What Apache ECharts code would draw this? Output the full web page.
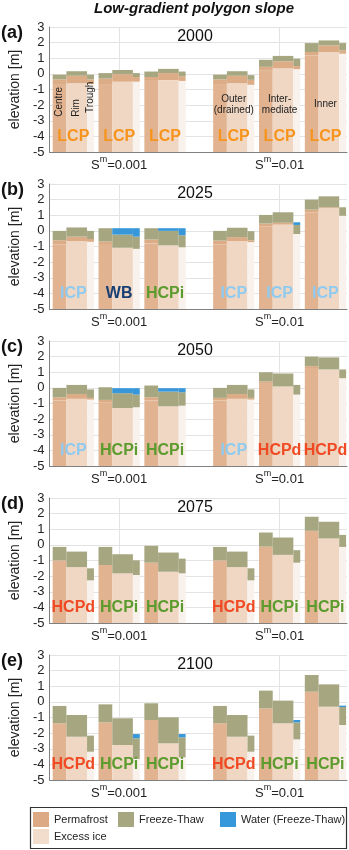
<!DOCTYPE html>
<html><head><meta charset="utf-8">
<script src="https://cdn.jsdelivr.net/npm/echarts@6/dist/echarts.min.js"></script>
<style>html,body{margin:0;padding:0;background:#fff}#c{width:349px;height:850px}</style>
</head><body><div id="c"></div><script>
// ---------------- DATA ----------------
const chartTitle = 'Low-gradient polygon slope';
const years = ['2000', '2025', '2050', '2075', '2100'];
const panelLetters = ['(a)', '(b)', '(c)', '(d)', '(e)'];
const slopeLabels = ['0.001', '0.01'];
const yTicks = [-5, -4, -3, -2, -1, 0, 1, 2, 3];
const sectionNames = ['Centre', 'Rim', 'Trough'];
const positionNames = ['Outer\n(drained)', 'Inter-\nmediate', 'Inner'];
const legendNames = ['Permafrost', 'Freeze-Thaw', 'Water (Freeze-Thaw)', 'Excess ice'];
const polygonTypes = [
  ['LCP', 'LCP', 'LCP', 'LCP', 'LCP', 'LCP'],
  ['ICP', 'WB', 'HCPi', 'ICP', 'ICP', 'ICP'],
  ['ICP', 'HCPi', 'HCPi', 'ICP', 'HCPd', 'HCPd'],
  ['HCPd', 'HCPi', 'HCPi', 'HCPd', 'HCPi', 'HCPi'],
  ['HCPd', 'HCPi', 'HCPi', 'HCPd', 'HCPi', 'HCPi']
];
// 18 bars per panel: (centre, rim, trough) x 6 polygons
// ground surface = top of freeze-thaw layer [m]
const surface = [
  [-0.05, 0.17, -0.05,  0.05, 0.25, 0.05,  0.15, 0.32, 0.15,  -0.05, 0.17, -0.08,  0.90, 1.15, 0.97,  1.97, 2.14, 1.97],
  [0.00, 0.22, 0.00,  0.17, -0.24, -0.37,  0.17, 0.00, -0.28,  0.00, 0.20, -0.02,  1.02, 1.19, 0.38,  2.00, 2.21, 1.51],
  [0.00, 0.19, -0.10,  0.04, -0.34, -0.43,  0.15, -0.24, -0.28,  0.00, 0.19, -0.10,  1.00, 0.92, 0.19,  2.00, 1.95, 1.18],
  [-0.13, -0.43, -1.50,  -0.13, -0.60, -0.99,  -0.06, -0.49, -0.88,  -0.13, -0.43, -1.50,  0.79, 0.47, -0.34,  1.80, 1.48, 0.64],
  [-0.26, -0.84, -2.16,  -0.16, -1.05, -2.33,  -0.09, -0.99, -2.27,  -0.26, -0.84, -2.16,  0.72, 0.08, -1.31,  1.72, 1.12, -0.33]
];
// permafrost table = bottom of freeze-thaw layer [m]
const permafrostTable = [
  [-0.35, -0.12, -0.35,  -0.30, -0.02, -0.20,  -0.20, 0.05, -0.15,  -0.35, -0.12, -0.38,  0.45, 0.80, 0.50,  1.40, 1.82, 1.50],
  [-0.60, -0.37, -0.52,  -0.68, -1.08, -1.15,  -0.55, -0.93, -1.05,  -0.62, -0.40, -0.60,  0.47, 0.52, -0.20,  1.36, 1.51, 0.97],
  [-0.60, -0.39, -0.64,  -0.77, -1.29, -1.24,  -0.60, -1.18, -1.14,  -0.64, -0.39, -0.64,  0.41, 0.09, -0.43,  1.39, 1.18, 0.62],
  [-0.99, -1.42, -2.27,  -1.29, -1.82, -1.93,  -1.14, -1.72, -1.82,  -0.99, -1.42, -2.27,  -0.11, -0.64, -1.14,  0.90, 0.41, -0.13],
  [-1.37, -2.23, -3.19,  -1.31, -2.76, -3.65,  -1.16, -2.65, -3.55,  -1.37, -2.23, -3.19,  -0.41, -1.37, -2.40,  0.65, -0.31, -1.48]
];
// top of excess-ice layer [m]
const excessIceTop = [
  [-0.70, -0.60, -0.65,  -0.70, -0.50, -0.50,  -0.45, -0.40, -0.45,  -0.70, -0.60, -0.70,  0.20, 0.35, 0.30,  1.18, 1.40, 1.29],
  [-0.85, -0.65, -0.70,  -0.90, -1.08, -1.15,  -0.80, -0.93, -1.05,  -0.85, -0.65, -0.72,  0.30, 0.40, -0.20,  1.20, 1.45, 0.97],
  [-0.80, -0.70, -0.75,  -0.95, -1.29, -1.24,  -0.80, -1.18, -1.14,  -0.80, -0.70, -0.75,  0.26, 0.09, -0.43,  1.27, 1.18, 0.62],
  [-0.99, -1.42, -2.27,  -1.29, -1.82, -1.93,  -1.14, -1.72, -1.82,  -0.99, -1.42, -2.27,  -0.11, -0.64, -1.14,  0.90, 0.41, -0.13],
  [-1.37, -2.23, -3.19,  -1.31, -2.76, -3.65,  -1.16, -2.65, -3.55,  -1.37, -2.23, -3.19,  -0.41, -1.37, -2.40,  0.65, -0.31, -1.48]
];
// ponded water level (freeze-thaw water) [m], null = none
const waterLevel = [
  [null, null, null,  null, null, null,  null, null, null,  null, null, null,  null, null, null,  null, null, null],
  [null, null, null,  null, 0.17, 0.17,  null, 0.17, 0.17,  null, null, null,  null, null, 0.55,  null, null, null],
  [null, null, null,  null, -0.02, -0.02,  null, -0.02, -0.02,  null, null, null,  null, null, null,  null, null, null],
  [null, null, null,  null, null, null,  null, null, null,  null, null, null,  null, null, null,  null, null, null],
  [null, null, null,  null, null, -2.06,  null, null, -2.06,  null, null, null,  null, null, -1.16,  null, null, -0.24]
];

// ---------------- STYLE / LAYOUT ----------------
const FONT = '"Liberation Sans", Arial, sans-serif';
const typeColors = { LCP: '#f7941d', ICP: '#8fcbf0', WB: '#173f74', HCPi: '#5c9b2e', HCPd: '#f04a24' };
const C_PERMA = '#dcac86', C_FT = '#a6a680', C_WATER = '#3797d8';
const excessColors = ['#e1b390', '#efd7c4', '#f9f1eb'];
const legendColors = { 'Permafrost': '#dcaa85', 'Freeze-Thaw': '#a6a680', 'Water (Freeze-Thaw)': '#3498db', 'Excess ice': '#f2ddcc' };
const legendSlots = [[33, 812], [118, 812], [220, 812], [33, 829]];
const X0 = 2.05;
const sectionWidth = [0.3, 0.45, 0.15];
function groupStart(g) { return X0 + g + (g >= 3 ? 0.5 : 0); }
function groupCentre(g) { return groupStart(g) + (sectionWidth[0] + sectionWidth[1] + sectionWidth[2]) / 2; }
function barSpan(b) {
  const g = Math.floor(b / 3), s = b % 3;
  let x = groupStart(g);
  for (let k = 0; k < s; k++) x += sectionWidth[k];
  return [x, x + sectionWidth[s]];
}
const slopeTickX = [groupCentre(1), groupCentre(4)];
const PANEL_TOP0 = 27, PANEL_STEP = 157, PANEL_H = 125;

function rectItem(colorFn) {
  return function (params, api) {
    const b = api.value(0), lo = api.value(1), hi = api.value(2);
    const sp = barSpan(b);
    const p0 = api.coord([sp[0], hi]);
    const p1 = api.coord([sp[1], lo]);
    return {
      type: 'rect',
      shape: { x: p0[0], y: p0[1], width: p1[0] - p0[0], height: p1[1] - p0[1] },
      style: { fill: colorFn(b) }
    };
  };
}

const grids = [], xAxes = [], yAxes = [], series = [], graphics = [];
graphics.push({ type: 'text', x: 194, y: 9, style: { text: chartTitle, font: 'italic bold 15px ' + FONT, fill: '#111', align: 'center', verticalAlign: 'middle' } });
graphics.push({ type: 'rect', shape: { x: 30.5, y: 807.5, width: 316, height: 41 }, style: { fill: 'none', stroke: '#333', lineWidth: 1.2 }, z: 10 });

years.forEach((yr, i) => {
  const top = PANEL_TOP0 + PANEL_STEP * i;
  grids.push({ left: 43, right: 2, top: top, height: PANEL_H });
  xAxes.push({
    gridIndex: i, type: 'value', min: 1.98, max: 8.47,
    axisLine: { show: true, onZero: false, lineStyle: { color: '#808080', width: 1 } },
    axisTick: { show: false, customValues: slopeTickX },
    splitLine: { show: true, lineStyle: { color: '#e3e3e3', width: 1 } },
    axisLabel: {
      customValues: slopeTickX, margin: 3, color: '#222',
      formatter: function (v) {
        const idx = Math.abs(v - slopeTickX[0]) < Math.abs(v - slopeTickX[1]) ? 0 : 1;
        return '{a|S}{b|m}{a|=' + slopeLabels[idx] + '}';
      },
      rich: {
        a: { fontSize: 13, fontFamily: FONT, color: '#222', lineHeight: 17, verticalAlign: 'bottom' },
        b: { fontSize: 9, fontFamily: FONT, color: '#222', lineHeight: 9, verticalAlign: 'top' }
      }
    }
  });
  yAxes.push({
    gridIndex: i, type: 'value', min: yTicks[0], max: yTicks[yTicks.length - 1], interval: 1,
    name: 'elevation [m]', nameLocation: 'middle', nameGap: 21, nameRotate: 90,
    nameTextStyle: { fontSize: 14, fontFamily: FONT, color: '#222' },
    axisLine: { show: true, lineStyle: { color: '#808080', width: 1 } },
    axisTick: { show: false },
    splitLine: { show: true, lineStyle: { color: '#e3e3e3', width: 1 } },
    axisLabel: { fontSize: 13, fontFamily: FONT, color: '#222', margin: 5 }
  });

  const ex = [], pf = [], ft = [], wa = [];
  for (let b = 0; b < 18; b++) {
    ex.push([b, yTicks[0], excessIceTop[i][b]]);
    if (permafrostTable[i][b] > excessIceTop[i][b]) pf.push([b, excessIceTop[i][b], permafrostTable[i][b]]);
    ft.push([b, permafrostTable[i][b], surface[i][b]]);
    if (waterLevel[i][b] !== null) wa.push([b, surface[i][b], waterLevel[i][b]]);
  }
  const common = { type: 'custom', xAxisIndex: i, yAxisIndex: i, silent: true, animation: false };
  series.push(Object.assign({}, common, { name: 'Excess ice', data: ex, itemStyle: { color: legendColors['Excess ice'] }, renderItem: rectItem(b => excessColors[b % 3]) }));
  series.push(Object.assign({}, common, { name: 'Permafrost', data: pf, itemStyle: { color: legendColors['Permafrost'] }, renderItem: rectItem(() => C_PERMA) }));
  series.push(Object.assign({}, common, { name: 'Freeze-Thaw', data: ft, itemStyle: { color: legendColors['Freeze-Thaw'] }, renderItem: rectItem(() => C_FT) }));
  series.push(Object.assign({}, common, { name: 'Water (Freeze-Thaw)', data: wa, itemStyle: { color: legendColors['Water (Freeze-Thaw)'] }, renderItem: rectItem(() => C_WATER) }));
  // polygon type labels
  series.push(Object.assign({}, common, {
    name: 'types', data: polygonTypes[i].map((t, g) => [g, -4.0]),
    renderItem: function (params, api) {
      const g = api.value(0);
      const p = api.coord([groupCentre(g), api.value(1)]);
      const t = polygonTypes[i][g];
      return { type: 'text', x: p[0], y: p[1], style: { text: t, fill: typeColors[t], font: 'bold 16px ' + FONT, align: 'center', verticalAlign: 'middle' } };
    }
  }));
  if (i === 0) {
    series.push(Object.assign({}, common, {
      name: 'sections', data: [[0, -2.75], [1, -2.75], [2, -2.5]],
      renderItem: function (params, api) {
        const b = api.value(0);
        const sp = barSpan(b);
        const p = api.coord([(sp[0] + sp[1]) / 2, api.value(1)]);
        return { type: 'text', x: p[0], y: p[1], rotation: Math.PI / 2, style: { text: sectionNames[b], fill: '#222', font: '10px ' + FONT, align: 'left', verticalAlign: 'middle' } };
      }
    }));
    series.push(Object.assign({}, common, {
      name: 'positions', data: [[3, -2.0], [4, -2.0], [5, -1.95]],
      renderItem: function (params, api) {
        const g = api.value(0);
        const p = api.coord([groupCentre(g), api.value(1)]);
        return { type: 'text', x: p[0], y: p[1], style: { text: positionNames[g - 3], fill: '#222', font: '10px ' + FONT, align: 'center', verticalAlign: 'middle', lineHeight: 11 } };
      }
    }));
  }
  graphics.push({ type: 'text', x: 1, y: top + 6, style: { text: panelLetters[i], font: 'bold 18px ' + FONT, fill: '#111', align: 'left', verticalAlign: 'middle' } });
  graphics.push({ type: 'text', x: 195, y: top + 10, style: { text: yr, font: '16px ' + FONT, fill: '#111', align: 'center', verticalAlign: 'middle' } });
});

const legends = legendNames.map((n, k) => ({
  data: [{ name: n, itemStyle: { color: legendColors[n] } }],
  left: legendSlots[k][0], top: legendSlots[k][1], orient: 'horizontal', selectedMode: false,
  icon: 'rect', itemWidth: 16, itemHeight: 15, itemGap: 0, padding: 0,
  textStyle: { fontSize: 11, fontFamily: FONT, color: '#222' }
}));

const option = {
  backgroundColor: '#fff',
  animation: false,
  grid: grids, xAxis: xAxes, yAxis: yAxes, series: series, graphic: graphics,
  legend: legends
};
const chart = echarts.init(document.getElementById('c'), null, { renderer: 'canvas' });
chart.setOption(option);
</script></body></html>
